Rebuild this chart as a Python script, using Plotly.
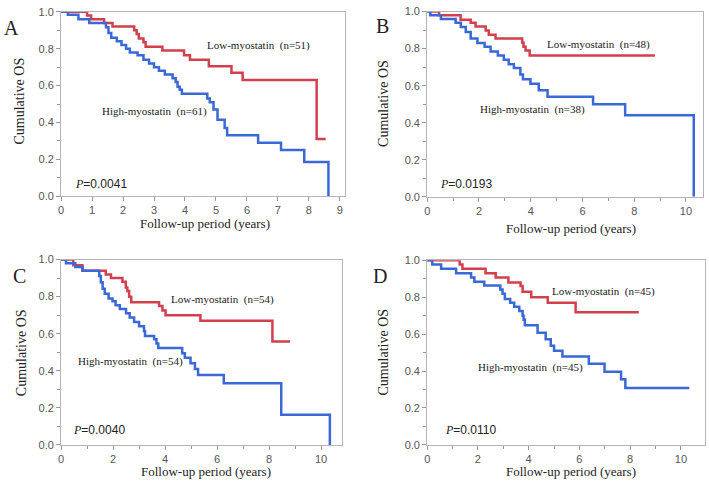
import plotly.graph_objects as go

W, H = 709, 486

# ---------------- data ----------------
a_low_t = [0, 0.84, 0.97, 1.39, 1.66, 2.36, 2.44, 2.51, 2.66, 2.73, 3.27, 3.97, 4.16, 4.77, 5.5, 5.86, 8.25, 8.54]
a_low_s = [1, 0.98, 0.96, 0.94, 0.92, 0.90, 0.88, 0.855, 0.835, 0.81, 0.79, 0.765, 0.74, 0.705, 0.67, 0.63, 0.31, 0.31]
a_high_t = [0, 0.22, 0.56, 0.91, 1.45, 1.53, 1.62, 1.8, 1.95, 2.1, 2.22, 2.47, 2.66, 2.84, 3.0, 3.16, 3.35, 3.6, 3.7,
            3.76, 3.83, 3.9, 4.72, 4.80, 4.92, 5.05, 5.28, 5.36, 6.36, 7.1, 7.85, 8.63]
a_high_s = [1, 0.984, 0.96, 0.94, 0.917, 0.885, 0.86, 0.84, 0.82, 0.80, 0.78, 0.764, 0.74, 0.72, 0.70, 0.68, 0.66,
            0.64, 0.62, 0.594, 0.577, 0.556, 0.53, 0.51, 0.47, 0.414, 0.37, 0.33, 0.29, 0.25, 0.185, 0]

b_low_t = [0, 0.46, 1.29, 1.68, 1.87, 2.26, 2.38, 2.64, 3.67, 3.72, 3.8, 3.96, 8.8]
b_low_s = [1, 0.98, 0.956, 0.94, 0.92, 0.898, 0.875, 0.854, 0.833, 0.81, 0.79, 0.763, 0.763]
b_high_t = [0, 0.12, 0.53, 1.1, 1.3, 1.49, 1.68, 1.94, 2.22, 2.45, 2.73, 2.96, 3.15, 3.35, 3.6, 3.7, 3.99, 4.31,
            4.65, 6.41, 7.65, 10.3]
b_high_s = [1, 0.98, 0.96, 0.94, 0.917, 0.89, 0.855, 0.83, 0.81, 0.785, 0.763, 0.74, 0.715, 0.696, 0.66, 0.635,
            0.61, 0.575, 0.54, 0.50, 0.44, 0]

c_low_t = [0, 0.47, 0.82, 1.72, 1.92, 2.36, 2.49, 2.55, 2.62, 2.7, 3.77, 3.9, 4.02, 5.36, 8.13, 8.81]
c_low_s = [1, 0.97, 0.94, 0.92, 0.90, 0.88, 0.85, 0.83, 0.80, 0.77, 0.75, 0.725, 0.70, 0.67, 0.558, 0.558]
c_high_t = [0, 0.19, 0.55, 0.83, 1.47, 1.53, 1.6, 1.68, 1.83, 1.98, 2.1, 2.26, 2.5, 2.64, 2.81, 3.0, 3.19, 3.23,
            3.58, 3.67, 3.74, 4.66, 4.76, 4.98, 5.15, 5.27, 6.26, 8.47, 10.34]
c_high_s = [1, 0.98, 0.96, 0.94, 0.912, 0.877, 0.842, 0.816, 0.79, 0.775, 0.754, 0.733, 0.71, 0.688, 0.663, 0.64,
            0.614, 0.588, 0.57, 0.547, 0.523, 0.495, 0.47, 0.44, 0.41, 0.377, 0.333, 0.163, 0]

d_low_t = [0, 1.28, 1.39, 2.3, 2.7, 3.2, 3.68, 3.76, 4.1, 4.75, 5.85, 8.34]
d_low_s = [1, 0.977, 0.954, 0.93, 0.907, 0.88, 0.86, 0.83, 0.80, 0.77, 0.718, 0.718]
d_high_t = [0, 0.2, 0.55, 1.14, 1.73, 1.86, 2.25, 2.88, 2.97, 3.06, 3.27, 3.43, 3.63, 3.76, 3.8, 3.85, 4.35, 4.67,
            4.87, 5.0, 5.33, 6.37, 6.99, 7.64, 7.81, 10.33]
d_high_s = [1, 0.977, 0.954, 0.93, 0.907, 0.884, 0.863, 0.842, 0.819, 0.79, 0.77, 0.748, 0.725, 0.70, 0.678,
            0.648, 0.607, 0.572, 0.537, 0.51, 0.479, 0.44, 0.396, 0.356, 0.308, 0.308]

panel_letters = ["A", "B", "C", "D"]
low_labels = ["Low-myostatin  (n=51)", "Low-myostatin  (n=48)", "Low-myostatin  (n=54)", "Low-myostatin  (n=45)"]
high_labels = ["High-myostatin  (n=61)", "High-myostatin  (n=38)", "High-myostatin  (n=54)", "High-myostatin  (n=45)"]
p_values = ["0.0041", "0.0193", "0.0040", "0.0110"]
y_ticks = [0.0, 0.2, 0.4, 0.6, 0.8, 1.0]

RED = "#d23f4d"
BLUE = "#3a68d6"

# ---------------- layout (pixel boxes) ----------------
# (left, right, top, bottom, xmax, dtick, minor)
panels = [
    (58.3, 343.0, 6.0, 195.0, 9.15, 1, None),
    (426.0, 703.3, 5.7, 195.7, 10.67, 2, 1),
    (58.3, 340.0, 260.0, 450.0, 10.79, 2, 1),
    (426.0, 705.0, 260.7, 450.0, 10.95, 2, 1),
]
curves = [
    (a_low_t, a_low_s, a_high_t, a_high_s),
    (b_low_t, b_low_s, b_high_t, b_high_s),
    (c_low_t, c_low_s, c_high_t, c_high_s),
    (d_low_t, d_low_s, d_high_t, d_high_s),
]
ann_pos = [
    dict(letter=(9, 23), low=(257, 41), high=(152, 108), p=(70, 183), yt=(17, 97), xt=(203, 223)),
    dict(letter=(381, 21), low=(598, 39), high=(532, 106), p=(437, 183), yt=(382, 100), xt=(570, 228)),
    dict(letter=(17, 277), low=(220, 301), high=(128, 364), p=(68, 435), yt=(18, 355), xt=(204, 477)),
    dict(letter=(379, 277), low=(603, 293), high=(530, 371), p=(442, 435), yt=(382, 355), xt=(570, 477)),
]

fig = go.Figure()
layout = dict(
    width=W, height=H, margin=dict(l=0, r=0, t=0, b=0),
    paper_bgcolor="white", plot_bgcolor="white", showlegend=False,
)
annotations = []

def px(x):
    return x / W

def py(y):
    return 1 - y / H

tickfont = dict(family="Liberation Sans, Arial, sans-serif", size=11, color="#555555")
serif = "Liberation Serif, Times New Roman, serif"
TXT = "#222222"

for i, ((l, r, t, b, xmax, dt, mn), (lt, ls, ht, hs), ap) in enumerate(zip(panels, curves, ann_pos)):
    xa = "xaxis" if i == 0 else f"xaxis{i+1}"
    ya = "yaxis" if i == 0 else f"yaxis{i+1}"
    xr = "x" if i == 0 else f"x{i+1}"
    yr = "y" if i == 0 else f"y{i+1}"
    xdict = dict(
        domain=[px(l), px(r)], range=[0, xmax], anchor=yr, dtick=dt, tick0=0,
        showgrid=False, zeroline=False, showline=True, mirror=True,
        linecolor="#b5b5b5", linewidth=1, ticks="outside", ticklen=4, tickcolor="#999999",
        tickfont=tickfont, fixedrange=True,
    )
    if mn:
        xdict["minor"] = dict(dtick=mn, ticks="outside", ticklen=3, tickcolor="#999999")
    layout[xa] = xdict
    layout[ya] = dict(
        domain=[py(b), py(t)], range=[0, 1], anchor=xr, tickvals=y_ticks, tickformat=".1f",
        showgrid=False, zeroline=False, showline=True, mirror=True,
        linecolor="#b5b5b5", linewidth=1, ticks="outside", ticklen=4, tickcolor="#999999",
        minor=dict(dtick=0.1, ticks="outside", ticklen=3, tickcolor="#999999"),
        tickfont=tickfont, fixedrange=True,
    )
    fig.add_trace(go.Scatter(x=lt, y=ls, mode="lines", line=dict(color=RED, width=2.5, shape="hv"),
                             xaxis=xr, yaxis=yr, hoverinfo="skip"))
    fig.add_trace(go.Scatter(x=ht, y=hs, mode="lines", line=dict(color=BLUE, width=2.5, shape="hv"),
                             xaxis=xr, yaxis=yr, hoverinfo="skip"))

    def add(pos, text, size, family, xanchor="center", textangle=0):
        annotations.append(dict(
            x=px(pos[0]), y=py(pos[1]), xref="paper", yref="paper", text=text, showarrow=False,
            xanchor=xanchor, yanchor="middle", textangle=textangle,
            font=dict(family=family, size=size, color=TXT),
        ))

    add(ap["letter"], panel_letters[i], 20, serif)
    add(ap["low"], low_labels[i], 11, serif)
    add(ap["high"], high_labels[i], 11, serif)
    annotations.append(dict(
        x=px(ap["p"][0]), y=py(ap["p"][1]), xref="paper", yref="paper", showarrow=False,
        xanchor="left", yanchor="middle",
        text=f"<i><span style='font-family:{serif}'>P</span></i>={p_values[i]}",
        font=dict(family="Liberation Sans, Arial, sans-serif", size=12, color=TXT),
    ))
    add(ap["yt"], "Cumulative OS", 14, serif, textangle=-90)
    add(ap["xt"], "Follow-up period (years)", 13, serif)

layout["annotations"] = annotations
fig.update_layout(**layout)
fig.write_html("out.html", config={"displayModeBar": False, "staticPlot": True},
               post_script="document.body.style.margin='0';document.body.style.padding='0';")
